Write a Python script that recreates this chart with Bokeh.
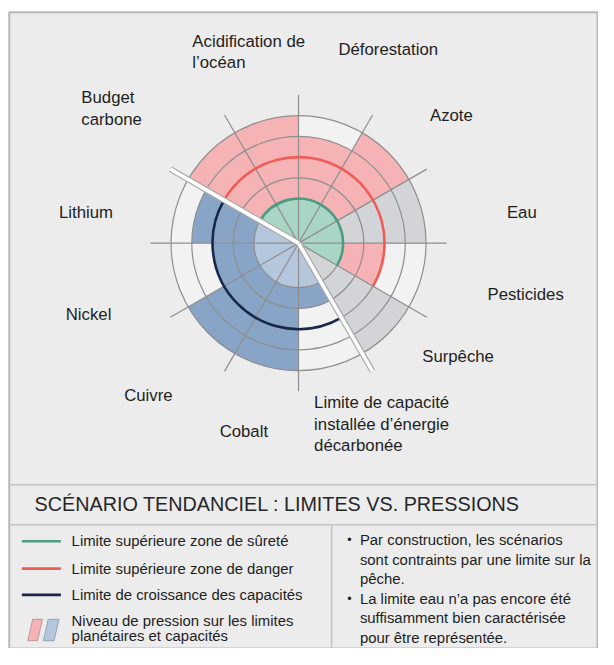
import math
from bokeh.plotting import figure
from bokeh.models import Range1d, ColumnDataSource
from bokeh.embed import file_html
from bokeh.resources import INLINE
from bokeh.core.properties import value

# ---------------- data ----------------
# sectors counter-clockwise, starting at 3 o'clock, 30 degrees each
categories = ["Eau", "Azote", "Déforestation", "Acidification de l’océan", "Budget carbone",
              "Lithium", "Nickel", "Cuivre", "Cobalt",
              "Limite de capacité installée d’énergie décarbonée", "Surpêche", "Pesticides"]
pressure_level = [5, 5, 4, 5, 5, 4, 3, 5, 5, 2, 5, 3]
group = ["non caractérisée", "planétaire", "planétaire", "planétaire", "planétaire",
         "capacité", "capacité", "capacité", "capacité", "capacité",
         "contrainte", "planétaire"]
ring_levels = [1, 2, 3, 4, 5]
safe_limit_level = 1
danger_limit_level = 3
capacity_limit_level = 3
planet_span = ["Pesticides", "Budget carbone"]      # first / last sector of planetary boundaries
capacity_span = ["Lithium", "Limite de capacité installée d’énergie décarbonée"]

label_lines = [["Eau"], ["Azote"], ["Déforestation"], ["Acidification de", "l’océan"],
               ["Budget", "carbone"], ["Lithium"], ["Nickel"], ["Cuivre"], ["Cobalt"],
               ["Limite de capacité", "installée d’énergie", "décarbonée"], ["Surpêche"], ["Pesticides"]]

legend_labels = ["Limite supérieure zone de sûreté", "Limite supérieure zone de danger",
                 "Limite de croissance des capacités"]
legend_pressure = ["Niveau de pression sur les limites", "planétaires et capacités"]
notes = [["Par construction, les scénarios", "sont contraints par une limite sur la", "pêche."],
         ["La limite eau n’a pas encore été", "suffisamment bien caractérisée", "pour être représentée."]]
title = "SCÉNARIO TENDANCIEL : LIMITES VS. PRESSIONS"

# ---------------- layout / style (reference pixel space 614 x 665) ----------------
REF_W, REF_H = 614, 665
W, H = 598, 648
S = W / REF_W          # screen px per reference px

def Y(yp):
    return REF_H - yp

def fs(px):
    return value(f"{px * S:.2f}px")

CX, CY = 306, Y(249)
R0, STEP = 45.7, 21.3
SPOKE = 152
SECTOR = 30
D = math.radians

def rad(level):
    return R0 + (level - 1) * STEP

FONT = "Liberation Sans"
C_BG = "#ececec"
C_DISK = "#f2f2f2"
C_PINK = "#f6b3b5"
C_GREY = "#d3d4d7"
C_STEEL = "#88a4c6"
C_LIGHTBLUE = "#b5c7dd"
C_GREENFILL = "#a9d5c5"
C_GREEN = "#4f9a83"
C_RED = "#ef5d57"
C_NAVY = "#17284a"
C_RING = "#8e8e8e"
C_TEXT = "#1e1e1e"
C_SEP = "#c4c4c4"

band_color = {"planétaire": C_PINK, "non caractérisée": C_GREY, "contrainte": C_GREY, "capacité": C_STEEL}
core_color = {"planétaire": C_GREENFILL, "non caractérisée": C_GREENFILL, "contrainte": C_GREY, "capacité": C_LIGHTBLUE}

p = figure(width=W, height=H, x_range=Range1d(0, REF_W), y_range=Range1d(0, REF_H),
           output_backend="svg", toolbar_location=None, x_axis_type=None, y_axis_type=None,
           min_border=0, outline_line_color=None, background_fill_color="white",
           border_fill_color="white")

# panel box
p.quad(left=9, right=REF_W - 1, bottom=0, top=Y(12), fill_color=C_BG,
       line_color="#b8b8b8", line_width=2)
p.segment(x0=9, y0=Y(497), x1=REF_W, y1=Y(497), line_color=C_SEP, line_width=1.5)
p.segment(x0=9, y0=Y(538), x1=REF_W, y1=Y(538), line_color=C_SEP, line_width=1.5)
p.segment(x0=340, y0=Y(538), x1=340, y1=0, line_color=C_SEP, line_width=1.5)

# disk background
p.circle(x=CX, y=CY, radius=rad(ring_levels[-1]), fill_color=C_DISK, line_color=None)

n = len(categories)
starts = [D(k * SECTOR) for k in range(n)]
ends = [D((k + 1) * SECTOR) for k in range(n)]
src = ColumnDataSource(dict(
    start=starts, end=ends,
    inner=[R0] * n,
    outer=[rad(l) for l in pressure_level],
    band=[band_color[g] for g in group],
    core=[core_color[g] for g in group],
))
p.annular_wedge(x=CX, y=CY, inner_radius="inner", outer_radius="outer", start_angle="start",
                end_angle="end", fill_color="band", line_color=None, source=src)
p.wedge(x=CX, y=CY, radius=R0, start_angle="start", end_angle="end",
        fill_color="core", line_color=None, source=src)

# rings
p.circle(x=[CX] * len(ring_levels), y=[CY] * len(ring_levels), radius=[rad(l) for l in ring_levels],
         fill_color=None, line_color=C_RING, line_width=1.2)
# spokes
p.ray(x=[CX] * n, y=[CY] * n, length=SPOKE, angle=starts,
      length_units="data", line_color=C_RING, line_width=1.2)

# limit arcs
ps = D(categories.index(planet_span[0]) * SECTOR - 360)
pe = D((categories.index(planet_span[1]) + 1) * SECTOR)
cs = D(categories.index(capacity_span[0]) * SECTOR)
ce = D((categories.index(capacity_span[1]) + 1) * SECTOR)
p.arc(x=CX, y=CY, radius=rad(safe_limit_level), start_angle=ps, end_angle=pe,
      line_color=C_GREEN, line_width=2.6)
p.arc(x=CX, y=CY, radius=rad(danger_limit_level), start_angle=ps, end_angle=pe,
      line_color=C_RED, line_width=2.6)
p.arc(x=CX, y=CY, radius=rad(capacity_limit_level), start_angle=cs, end_angle=ce,
      line_color=C_NAVY, line_width=2.6)

# separators between planetary limits and capacities (double white lines)
p.ray(x=[CX, CX], y=[CY, CY], length=SPOKE, angle=[pe, ce],
      length_units="data", line_color="#a9a9a9", line_width=6)
p.ray(x=[CX, CX], y=[CY, CY], length=SPOKE, angle=[pe, ce],
      length_units="data", line_color="white", line_width=3.6)

# category labels (reference positions of first line: left x, middle y)
label_pos = {
    "Eau": (520, 218), "Azote": (441, 118), "Déforestation": (347, 50),
    "Acidification de l’océan": (197, 42), "Budget carbone": (83, 100),
    "Lithium": (60, 218), "Nickel": (67, 322), "Cuivre": (127, 405), "Cobalt": (225, 442),
    "Limite de capacité installée d’énergie décarbonée": (322, 413),
    "Surpêche": (433, 365), "Pesticides": (500, 302),
}
tx, ty, tt = [], [], []
for cat, lines in zip(categories, label_lines):
    x0, y0 = label_pos[cat]
    for i, line in enumerate(lines):
        tx.append(x0)
        ty.append(Y(y0 + i * 22))
        tt.append(line)
p.text(x=tx, y=ty, text=tt, text_font=value(FONT), text_font_size=fs(17.2),
       text_color=C_TEXT, text_align="left", text_baseline="middle")

# title
p.text(x=[35], y=[Y(517)], text=[title], text_font=value(FONT), text_font_size=fs(20.3),
       text_color="#262626", text_align="left", text_baseline="middle")

# legend lines
leg_y = [555, 583, 610]
leg_colors = [C_GREEN, C_RED, C_NAVY]
p.segment(x0=[22] * 3, y0=[Y(v) for v in leg_y], x1=[62] * 3, y1=[Y(v) for v in leg_y],
          line_color=leg_colors, line_width=2.6)
p.text(x=[73] * 3, y=[Y(v) for v in leg_y], text=legend_labels, text_font=value(FONT),
       text_font_size=fs(15.3), text_color=C_TEXT, text_align="left", text_baseline="middle")
# pressure legend swatches
p.patches(xs=[[28, 33, 43, 38], [44, 49, 60, 55]],
          ys=[[Y(657), Y(635), Y(635), Y(657)], [Y(657), Y(635), Y(635), Y(657)]],
          fill_color=[C_PINK, C_LIGHTBLUE], line_color=["#b08a8c", "#8596ad"], line_width=0.8)
p.text(x=[73, 73], y=[Y(637), Y(652)], text=legend_pressure, text_font=value(FONT),
       text_font_size=fs(15.3), text_color=C_TEXT, text_align="left", text_baseline="middle")

# notes
nx, ny, nt, bx, by = [], [], [], [], []
yy = 554
for block in notes:
    bx.append(356)
    by.append(Y(yy))
    for line in block:
        nx.append(369)
        ny.append(Y(yy))
        nt.append(line)
        yy += 20
p.text(x=nx, y=ny, text=nt, text_font=value(FONT), text_font_size=fs(15.3),
       text_color=C_TEXT, text_align="left", text_baseline="middle")
p.text(x=bx, y=by, text=["•"] * len(bx), text_font=value(FONT), text_font_size=fs(13),
       text_color=C_TEXT, text_align="left", text_baseline="middle")

open("out.html", "w").write(file_html(p, INLINE))
